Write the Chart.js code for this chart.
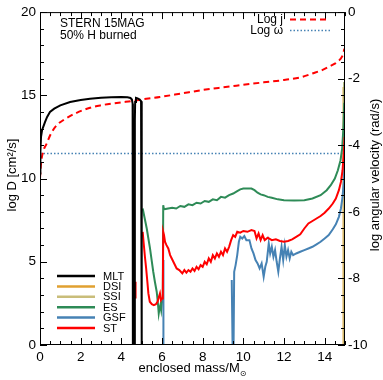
<!DOCTYPE html>
<html>
<head>
<meta charset="utf-8">
<script src="https://cdn.jsdelivr.net/npm/chart.js@4.4.0/dist/chart.umd.min.js"></script>
<style>
  html, body { margin: 0; padding: 0; background: #fff; }
</style>
</head>
<body>
<canvas id="chart" width="383" height="380"></canvas>
<script>
// enclosed mass (Msun) and log D values; null breaks a line
const mltMass = [0, 0.02, 0.05, 0.1, 0.16, 0.25, 0.35, 0.49, 0.7, 1.0, 1.48, 2.0, 2.46, 3.0, 3.5, 4.0, 4.3, 4.45, 4.52, 4.555, 4.565, 4.57,
                 4.6,
                 4.66, 4.665, 4.68, 4.72, 4.8, 4.9, 4.97, 5.0, 5.005];
const mltLogD = [10.3, 11.6, 12.5, 12.9, 13.1, 13.4, 13.7, 14.0, 14.2, 14.4, 14.6, 14.72, 14.8, 14.86, 14.89, 14.9, 14.88, 14.84, 14.75, 14.5, 13.5, 0,
                 null,
                 0, 13.5, 14.6, 14.85, 14.82, 14.75, 14.65, 14.3, 0];

const grayMass = [4.57, 4.66];
const grayLogD = [14.4, 14.4];

const stMass = [4.575, 4.578, 4.582,
                4.64,
                4.695, 4.7,
                4.8,
                5.05, 5.1, 5.16, 5.22, 5.28, 5.33, 5.4, 5.5, 5.6, 5.7, 5.78, 5.85, 5.9, 5.95, 6.0, 6.04,
                6.06, 6.1, 6.15, 6.22, 6.31, 6.4, 6.48, 6.6, 6.72, 6.85, 7.0, 7.1, 7.2, 7.3, 7.4, 7.5, 7.6, 7.7, 7.8, 7.9,
                8.0, 8.1, 8.2, 8.3, 8.4, 8.5, 8.6, 8.7, 8.8, 8.9, 9.0, 9.1, 9.2, 9.3, 9.4, 9.5, 9.6, 9.7, 9.85,
                10.0, 10.2, 10.4, 10.55, 10.65, 10.75, 10.85, 10.95, 11.05, 11.2, 11.4, 11.6, 11.8, 12.0, 12.2, 12.4, 12.6, 12.8,
                13.0, 13.2, 13.4, 13.6, 13.8, 14.0, 14.2, 14.4, 14.55, 14.7, 14.8, 14.88, 14.94, 14.98];
const stLogD = [5.2, 3.6, 1.9,
                null,
                3.8, 2.8,
                null,
                6.8, 6.1, 5.3, 4.6, 3.8, 3.1, 2.6, 2.45, 2.4, 2.45, 2.6, 2.9, 3.1, 2.7, 2.8, 3.0,
                6.8, 6.6, 6.2, 6.0, 5.8, 5.4, 5.2, 4.9, 4.6, 4.5, 4.3, 4.5, 4.35, 4.5, 4.4, 4.6, 4.45, 4.7, 4.55, 4.8,
                4.7, 5.0, 4.85, 5.2, 5.0, 5.4, 5.2, 5.5, 5.3, 5.6, 5.4, 5.8, 5.6, 5.9, 6.3, 6.6, 6.5, 6.8, 6.75,
                6.85, 6.8, 6.9, 6.85, 6.4, 6.7, 6.3, 6.6, 6.3, 6.45, 6.3, 6.35, 6.25, 6.2, 6.25, 6.35, 6.5, 6.65,
                7.0, 7.3, 7.45, 7.6, 7.75, 7.95, 8.2, 8.5, 8.8, 9.3, 9.8, 10.5, 11.5, 12.5];

const esMass = [5.05, 5.15, 5.25, 5.33, 5.41, 5.49, 5.57, 5.65, 5.74, 5.8, 5.84, 5.88, 5.92, 5.96, 6.0, 6.04,
                6.06, 6.1, 6.3, 6.5, 6.7, 6.9, 7.1, 7.3, 7.5, 7.7, 7.9, 8.1, 8.3, 8.5, 8.7, 8.9, 9.1, 9.3, 9.5, 9.7, 9.85,
                10.0, 10.2, 10.4, 10.55, 10.7, 10.85, 11.0, 11.2, 11.4, 11.7, 12.0, 12.5, 13.0, 13.4, 13.8,
                14.1, 14.3, 14.5, 14.65, 14.78, 14.86, 14.92, 14.96, 14.99];
const esLogD = [8.2, 7.6, 7.0, 6.4, 5.8, 5.1, 4.4, 3.8, 3.2, 2.5, 1.9, 2.2, 2.4, 2.1, 2.6, 3.2,
                8.4, 8.15, 8.2, 8.25, 8.2, 8.35, 8.3, 8.45, 8.4, 8.55, 8.5, 8.65, 8.6, 8.75, 8.7, 8.9, 8.85, 9.0, 9.1, 9.25, 9.35,
                9.4, 9.4, 9.4, 9.3, 9.15, 9.05, 9.0, 8.9, 8.85, 8.75, 8.7, 8.68, 8.7, 8.8, 9.0,
                9.3, 9.6, 10.0, 10.5, 11.1, 11.8, 13.0, 14.5, 15.8];

const gsfMass = [6.06, 6.07,
                 7.0,
                 9.43, 9.47,
                 9.5,
                 9.52, 9.55, 9.62, 9.7, 9.78, 9.85, 9.95, 10.05, 10.15, 10.3, 10.4, 10.5, 10.6, 10.7, 10.8, 10.9,
                 11.0, 11.08, 11.15, 11.25, 11.32, 11.4, 11.48, 11.56, 11.64, 11.72, 11.8, 11.88, 11.96,
                 12.04, 12.12, 12.2, 12.28, 12.36, 12.45, 12.6, 12.8, 13.0, 13.2, 13.4, 13.6, 13.8,
                 14.0, 14.2, 14.4, 14.55, 14.7, 14.8, 14.88, 14.94, 14.98];
const gsfLogD = [0, 5.1,
                 null,
                 3.9, 0,
                 null,
                 0, 4.4, 4.8, 5.4, 6.2, 6.5, 6.4, 6.55, 6.3, 6.3, 5.8, 5.5, 5.1, 4.9, 4.6, 4.9,
                 4.1, 4.7, 5.0, 6.1, 5.5, 5.9, 5.3, 5.7, 5.0, 4.4, 5.2, 5.9, 5.1,
                 6.0, 5.3, 5.7, 5.2, 5.6, 5.4, 5.5, 5.6, 5.7, 5.8, 5.9, 6.05, 6.2,
                 6.4, 6.6, 6.95, 7.25, 7.7, 8.2, 8.9, 9.8, 11.0];

const dsiMass = [14.93, 14.93];
const dsiLogD = [0, 15.5];
const ssiMass = [14.96, 14.96];
const ssiLogD = [0, 15.8];

// log j on the left axis, log omega on the right axis
const jMass = [0, 0.03, 0.08, 0.15, 0.22, 0.33, 0.5, 0.82, 1.2, 1.8, 2.46, 3.0, 3.5, 4.0, 4.5, 5.0, 5.9,
               7.0, 8.0, 9.0, 10.0, 11.0, 12.0, 12.8, 13.44, 13.9, 14.26, 14.5, 14.67, 14.8, 14.9, 14.97];
const logJ = [10.0, 10.6, 11.2, 11.6, 11.85, 12.1, 12.6, 13.2, 13.55, 13.95, 14.25, 14.4, 14.5, 14.58, 14.65, 14.75, 14.9,
              15.12, 15.32, 15.48, 15.63, 15.78, 15.92, 16.08, 16.33, 16.53, 16.75, 16.9, 17.06, 17.22, 17.45, 17.8];
const omegaMass = [0, 15];
const logOmega = [-4.25, -4.25];

const legendNames = ['MLT', 'DSI', 'SSI', 'ES', 'GSF', 'ST'];
const legendColors = ['#000000', '#e0a030', '#c9bd7a', '#2e8b57', '#4682b4', '#ff0000'];

const FONT = '"Liberation Sans", Arial, "DejaVu Sans", sans-serif';

function pts(xs, ys) {
    return xs.map((x, i) => ({x: x, y: ys[i]}));
}

function line(ctx, x1, y1, x2, y2) {
    ctx.beginPath();
    ctx.moveTo(x1, y1);
    ctx.lineTo(x2, y2);
    ctx.stroke();
}

// frame, inward ticks, labels and legends
const decor = {
    id: 'decor',
    afterDatasetsDraw(chart) {
        const ctx = chart.ctx, a = chart.chartArea;
        const sx = chart.scales.x, sy = chart.scales.y, sy2 = chart.scales.y2;
        ctx.save();
        ctx.strokeStyle = '#000';
        ctx.lineWidth = 1;
        ctx.setLineDash([]);
        ctx.strokeRect(a.left + 0.5, a.top + 0.5, a.right - a.left - 1, a.bottom - a.top - 1);

        for (let i = 0; i <= 30; i++) {
            const px = Math.round(sx.getPixelForValue(i * 0.5)) + 0.5;
            const len = i % 4 === 0 ? 7 : 4;
            line(ctx, px, a.bottom, px, a.bottom - len);
            line(ctx, px, a.top, px, a.top + len);
        }
        for (let i = 0; i <= 20; i++) {
            const py = Math.round(sy.getPixelForValue(i)) + 0.5;
            const len = i % 5 === 0 ? 7 : 4;
            line(ctx, a.left, py, a.left + len, py);
        }
        for (let i = 0; i <= 20; i++) {
            const py = Math.round(sy2.getPixelForValue(-10 + i * 0.5)) + 0.5;
            const len = i % 4 === 0 ? 7 : 4;
            line(ctx, a.right, py, a.right - len, py);
        }

        ctx.fillStyle = '#000';
        ctx.font = '12px ' + FONT;
        ctx.textAlign = 'left';
        ctx.textBaseline = 'alphabetic';
        ctx.fillText('STERN 15MAG', 60, 27);
        ctx.fillText('50% H burned', 60, 39);

        // top right legend
        ctx.textAlign = 'right';
        ctx.fillText('Log j', 283, 23);
        ctx.fillText('Log \u03c9', 283, 34);
        ctx.strokeStyle = '#ff0000';
        ctx.lineWidth = 2;
        ctx.setLineDash([6, 4]);
        line(ctx, 290, 19.5, 328, 19.5);
        ctx.strokeStyle = '#4682b4';
        ctx.lineWidth = 1.5;
        ctx.setLineDash([1.5, 2]);
        line(ctx, 290, 30.5, 330, 30.5);
        ctx.setLineDash([]);

        // bottom left legend
        ctx.font = '11px ' + FONT;
        ctx.textAlign = 'left';
        ctx.textBaseline = 'middle';
        legendNames.forEach((name, i) => {
            const yy = 276 + i * 10.4;
            ctx.strokeStyle = legendColors[i];
            ctx.lineWidth = 2.5;
            line(ctx, 57, yy, 95, yy);
            ctx.fillStyle = '#000';
            ctx.fillText(name, 103, yy + 0.5);
        });

        // axis titles
        ctx.font = '13px ' + FONT;
        ctx.textAlign = 'center';
        ctx.save();
        ctx.translate(12, 175);
        ctx.rotate(-Math.PI / 2);
        ctx.fillText('log D [cm\u00b2/s]', 0, 0);
        ctx.restore();
        ctx.save();
        ctx.translate(375, 175);
        ctx.rotate(-Math.PI / 2);
        ctx.fillText('log angular velocity (rad/s)', 0, 0);
        ctx.restore();

        ctx.textBaseline = 'alphabetic';
        ctx.textAlign = 'left';
        const main = 'enclosed mass/M';
        const w1 = ctx.measureText(main).width;
        ctx.font = '8px ' + FONT;
        const w2 = ctx.measureText('\u2299').width;
        const x0 = (a.left + a.right) / 2 - (w1 + w2) / 2;
        ctx.font = '13px ' + FONT;
        ctx.fillText(main, x0, 372);
        ctx.font = '8px ' + FONT;
        ctx.fillText('\u2299', x0 + w1, 376);
        ctx.restore();
    }
};

const tickFont = {family: FONT, size: 13.5};

new Chart(document.getElementById('chart'), {
    type: 'line',
    data: {
        datasets: [
            {label: 'MLT', data: pts(mltMass, mltLogD), borderColor: '#000000', borderWidth: 2},
            {label: 'gap', data: pts(grayMass, grayLogD), borderWidth: 0, borderColor: 'rgba(0,0,0,0)',
             backgroundColor: '#bdbdbd', fill: 'origin'},
            {label: 'ST', data: pts(stMass, stLogD), borderColor: '#ff0000', borderWidth: 2},
            {label: 'GSF', data: pts(gsfMass, gsfLogD), borderColor: '#4682b4', borderWidth: 2},
            {label: 'ES', data: pts(esMass, esLogD), borderColor: '#2e8b57', borderWidth: 2},
            {label: 'SSI', data: pts(ssiMass, ssiLogD), borderColor: '#c9bd7a', borderWidth: 2},
            {label: 'DSI', data: pts(dsiMass, dsiLogD), borderColor: '#e0a030', borderWidth: 2},
            {label: 'Log j', data: pts(jMass, logJ), borderColor: '#ff0000', borderWidth: 2,
             borderDash: [6, 4], cubicInterpolationMode: 'monotone'},
            {label: 'Log w', data: pts(omegaMass, logOmega), yAxisID: 'y2', borderColor: '#4682b4',
             borderWidth: 1.5, borderDash: [1.5, 2]}
        ]
    },
    options: {
        responsive: false,
        animation: false,
        devicePixelRatio: 1,
        layout: {padding: {top: 5, left: 0, right: 0, bottom: 0}},
        plugins: {legend: {display: false}, tooltip: {enabled: false}},
        elements: {point: {radius: 0}, line: {tension: 0, fill: false}},
        spanGaps: false,
        scales: {
            x: {
                type: 'linear', min: 0, max: 15,
                afterFit: s => { s.height = 35; },
                grid: {display: false, drawTicks: false}, border: {display: false},
                ticks: {stepSize: 2, includeBounds: false, padding: 4, color: '#000', font: tickFont, maxRotation: 0}
            },
            y: {
                type: 'linear', position: 'left', min: 0, max: 20,
                afterFit: s => { s.width = 40; },
                grid: {display: false, drawTicks: false}, border: {display: false},
                ticks: {stepSize: 5, padding: 4, color: '#000', font: tickFont}
            },
            y2: {
                type: 'linear', position: 'right', min: -10, max: 0,
                afterFit: s => { s.width = 38; },
                grid: {display: false, drawTicks: false}, border: {display: false},
                ticks: {stepSize: 2, padding: 3, color: '#000', font: tickFont}
            }
        }
    },
    plugins: [decor]
});
</script>
</body>
</html>
